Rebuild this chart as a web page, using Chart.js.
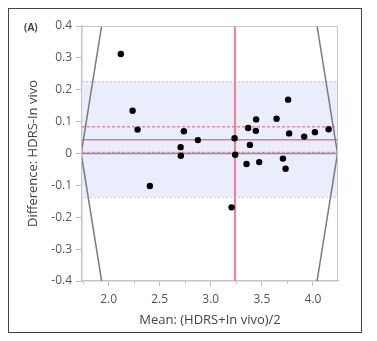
<!DOCTYPE html>
<html>
<head>
<meta charset="utf-8">
<script src="https://cdn.jsdelivr.net/npm/chart.js@4/dist/chart.umd.min.js"></script>
<style>
  html, body { margin: 0; padding: 0; background: #fff; }
  #wrap { position: relative; width: 377px; height: 341px; }
  #frame { position: absolute; left: 8px; top: 8px; width: 352px; height: 323px; border: 1.5px solid #444; pointer-events: none; }
  #panel { position: absolute; left: 24px; top: 20px; font: bold 10px 'Open Sans', sans-serif; color: #444; }
</style>
</head>
<body>
<div id="wrap">
  <canvas id="ba" width="377" height="341"></canvas>
  <div id="frame"></div>
  <div id="panel">(A)</div>
</div>
<script>
'use strict';

// ===== DATA =====
const meanVals = [2.12, 2.235, 2.284, 2.404, 2.707, 2.705, 2.737, 2.874, 3.204, 3.233, 3.239, 3.350,
                  3.366, 3.383, 3.444, 3.441, 3.474, 3.644, 3.706, 3.732, 3.757, 3.767, 3.914, 4.019, 4.153];
const diffVals = [0.312, 0.134, 0.075, -0.102, -0.007, 0.020, 0.070, 0.042, -0.169, 0.048, -0.004, -0.033,
                  0.080, 0.027, 0.107, 0.071, -0.027, 0.109, -0.016, -0.048, 0.169, 0.063, 0.053, 0.067, 0.076];

const meanDiff = 0.043;
const ciLow = 0.003, ciHigh = 0.084;
const loaLow = -0.138, loaHigh = 0.225;
const meanOfMeans = 3.237;

// grey boundary lines (rotated data frame)
const edgeY = [0.4, 0, -0.4];
const leftEdgeX = [1.932, 1.732, 1.932];
const rightEdgeX = [4.04, 4.24, 4.04];

const xMin = 1.74, xMax = 4.245;
const yMin = -0.4, yMax = 0.4;
const xTicks = [2.0, 2.5, 3.0, 3.5, 4.0];
const xMinorTicks = [1.75, 2.25, 2.75, 3.25, 3.75];
const yTicks = [-0.4, -0.3, -0.2, -0.1, 0, 0.1, 0.2, 0.3, 0.4];

const FONT = "'Open Sans', sans-serif";

function hLine(v) { return [{ x: xMin, y: v }, { x: xMax, y: v }]; }

const points = meanVals.map((m, i) => ({ x: m, y: diffVals[i] }));

// minor ticks on x + light frame on top/right
const framePlugin = {
    id: 'framePlugin',
    afterDraw(chart) {
        const { ctx, chartArea: { left, right, top, bottom }, scales: { x } } = chart;
        ctx.save();
        ctx.strokeStyle = '#c8c8c8'; ctx.lineWidth = 1;
        ctx.beginPath();
        ctx.moveTo(left, top + 0.5); ctx.lineTo(right - 0.5, top + 0.5); ctx.lineTo(right - 0.5, bottom);
        ctx.stroke();
        ctx.beginPath();
        xMinorTicks.forEach(v => {
            const px = Math.round(x.getPixelForValue(v)) + 0.5;
            ctx.moveTo(px, bottom); ctx.lineTo(px, bottom + 3);
        });
        ctx.stroke();
        ctx.restore();
    }
};

new Chart(document.getElementById('ba'), {
    type: 'scatter',
    data: {
        datasets: [
            { type: 'scatter', data: points, pointRadius: 3.2, pointBackgroundColor: '#000', pointBorderWidth: 0 },
            { type: 'line', data: [{ x: meanOfMeans, y: yMin }, { x: meanOfMeans, y: yMax }],
              borderColor: '#ee8398', borderWidth: 2.2, pointRadius: 0, clip: 0 },
            { type: 'line', data: edgeY.map((y, i) => ({ x: leftEdgeX[i], y })),
              borderColor: '#7a7a7a', borderWidth: 1.5, pointRadius: 0, clip: 0 },
            { type: 'line', data: edgeY.map((y, i) => ({ x: rightEdgeX[i], y })),
              borderColor: '#7a7a7a', borderWidth: 1.5, pointRadius: 0, clip: 0 },
            { type: 'line', data: hLine(ciHigh), borderColor: '#e88aa0', borderWidth: 1.5,
              borderDash: [3, 2], pointRadius: 0 },
            { type: 'line', data: hLine(meanDiff), borderColor: '#e27a90', borderWidth: 1.5, pointRadius: 0 },
            { type: 'line', data: hLine(ciLow), borderColor: '#e88aa0', borderWidth: 1.5,
              borderDash: [3, 2], pointRadius: 0 },
            { type: 'line', data: hLine(0), borderColor: '#8a8a90', borderWidth: 1.5, pointRadius: 0 },
            { type: 'line', data: hLine(loaHigh), borderColor: '#b9b9c6', borderWidth: 1,
              borderDash: [2, 2], pointRadius: 0, fill: '+1', backgroundColor: 'rgba(230,234,252,0.85)' },
            { type: 'line', data: hLine(loaLow), borderColor: '#b9b9c6', borderWidth: 1,
              borderDash: [2, 2], pointRadius: 0 },
        ]
    },
    options: {
        responsive: false,
        animation: false,
        layout: { padding: { left: 0, top: 26, right: 39, bottom: 0 } },
        plugins: { legend: { display: false }, tooltip: { enabled: false } },
        scales: {
            x: {
                type: 'linear', min: xMin, max: xMax,
                afterBuildTicks: s => { s.ticks = xTicks.map(v => ({ value: v })); },
                afterFit: s => { s.height = 60; },
                grid: { drawOnChartArea: false, drawTicks: true, tickLength: 5, color: '#bdbdbd' },
                border: { display: true, color: '#c4c4c4', width: 1.5 },
                ticks: { color: '#555', font: { family: FONT, size: 12 }, padding: 6,
                         maxRotation: 0, callback: v => v.toFixed(1) },
                title: { display: true, text: 'Mean: (HDRS+In vivo)/2', color: '#444',
                         font: { family: FONT, size: 13 }, padding: { top: 0, bottom: 13 } }
            },
            y: {
                type: 'linear', min: yMin, max: yMax,
                afterBuildTicks: s => { s.ticks = yTicks.map(v => ({ value: v })); },
                afterFit: s => { s.width = 82; },
                grid: { drawOnChartArea: false, drawTicks: true, tickLength: 6, color: '#bdbdbd' },
                border: { display: true, color: '#c4c4c4', width: 1.5 },
                ticks: { color: '#555', font: { family: FONT, size: 12 }, padding: 4,
                         callback: v => (v === 0 ? '0' : v.toFixed(1)) },
                title: { display: true, text: 'Difference: HDRS-In vivo', color: '#444',
                         font: { family: FONT, size: 13 }, padding: { top: 25, bottom: 0 } }
            }
        }
    },
    plugins: [framePlugin]
});
</script>
</body>
</html>
